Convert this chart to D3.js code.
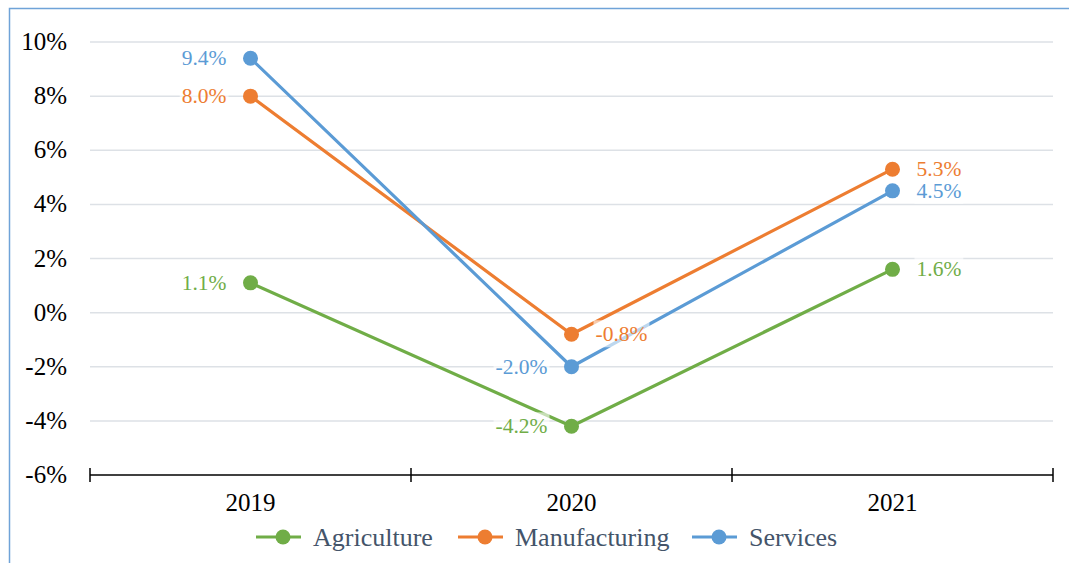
<!DOCTYPE html>
<html>
<head>
<meta charset="utf-8">
<script src="https://cdn.jsdelivr.net/npm/d3@7"></script>
</head>
<body style="margin:0">
<svg id="chart" width="1069" height="563" style="display:block; font-family: 'Times New Roman', 'Liberation Serif', 'DejaVu Serif', serif"></svg>
<script>
// Annual growth by sector, percent
const years = ["2019", "2020", "2021"];
const agriculture = [1.1, -4.2, 1.6];
const manufacturing = [8.0, -0.8, 5.3];
const services = [9.4, -2.0, 4.5];
const yTicks = [-6, -4, -2, 0, 2, 4, 6, 8, 10];

const series = [
  { name: "Agriculture", values: agriculture, color: "#70AD47", side: ["left", "left", "right"] },
  { name: "Manufacturing", values: manufacturing, color: "#ED7D31", side: ["left", "right", "right"] },
  { name: "Services", values: services, color: "#5B9BD5", side: ["left", "left", "right"] }
];

const svg = d3.select("#chart");
const fontStack = "Times New Roman";

// outer frame
svg.append("rect")
  .attr("x", 9.5).attr("y", 8.5)
  .attr("width", 1080).attr("height", 600)
  .attr("fill", "none").attr("stroke", "#6FA3D8").attr("stroke-width", 1.5);

const plot = { left: 90, right: 1053, top: 42, bottom: 475 };

const x = d3.scaleBand().domain(years).range([plot.left, plot.right]);
const y = d3.scaleLinear().domain([-6, 10]).range([plot.bottom, plot.top]);

// gridlines
svg.append("g")
  .selectAll("line")
  .data(yTicks.filter(t => t > -6))
  .join("line")
  .attr("x1", plot.left).attr("x2", plot.right)
  .attr("y1", d => y(d)).attr("y2", d => y(d))
  .attr("stroke", "#DDE1E6").attr("stroke-width", 1.5);

// y axis labels
svg.append("g").selectAll("text")
  .data(yTicks)
  .join("text")
  .attr("x", plot.left - 23).attr("y", d => y(d) + 8)
  .attr("text-anchor", "end")
  .style("font-family", fontStack).style("font-size", "25px").style("fill", "#000")
  .text(d => d + "%");

// x axis with ticks at band boundaries
const gx = svg.append("g").attr("transform", `translate(0,${plot.bottom})`);
gx.append("line")
  .attr("x1", plot.left).attr("x2", plot.right)
  .attr("stroke", "#000").attr("stroke-width", 1.5);
const bounds = years.map(d => x(d)).concat([x(years[years.length - 1]) + x.bandwidth()]);
gx.selectAll("line.tick")
  .data(bounds)
  .join("line")
  .attr("class", "tick")
  .attr("x1", d => d).attr("x2", d => d)
  .attr("y1", -7).attr("y2", 7)
  .attr("stroke", "#000").attr("stroke-width", 1.5);
gx.selectAll("text")
  .data(years)
  .join("text")
  .attr("x", d => x(d) + x.bandwidth() / 2)
  .attr("y", 36)
  .attr("text-anchor", "middle")
  .style("font-family", fontStack).style("font-size", "25px").style("fill", "#000")
  .text(d => d);

const cx = d => x(d) + x.bandwidth() / 2;
const line = d3.line().x(d => cx(d.year)).y(d => y(d.value));

// lines and markers
series.forEach(s => {
  const pts = years.map((yr, i) => ({ year: yr, value: s.values[i] }));
  svg.append("path")
    .datum(pts)
    .attr("d", line)
    .attr("fill", "none").attr("stroke", s.color).attr("stroke-width", 3.2)
    .attr("stroke-linejoin", "round");
  svg.append("g").selectAll("circle")
    .data(pts)
    .join("circle")
    .attr("cx", d => cx(d.year)).attr("cy", d => y(d.value))
    .attr("r", 7.5).attr("fill", s.color);
});

// approximate advance widths (em) for the label glyphs
const em = { "%": 0.833, ".": 0.25, "-": 0.333 };
const textWidth = (str, size) => Array.from(str).reduce((w, c) => w + (em[c] || 0.5), 0) * size;

// data labels on a translucent white backing
const labelSize = 21.5;
const labels = svg.append("g");
series.forEach(s => {
  years.forEach((yr, i) => {
    const v = s.values[i];
    const str = v.toFixed(1) + "%";
    const left = s.side[i] === "left";
    const tx = left ? cx(yr) - 24 : cx(yr) + 24;
    const w = textWidth(str, labelSize);
    const g = labels.append("g");
    g.append("rect")
      .attr("x", (left ? tx - w : tx) - 2).attr("y", y(v) - 14)
      .attr("width", w + 4).attr("height", 27)
      .attr("fill", "#fff").attr("fill-opacity", 0.6);
    g.append("text")
      .attr("x", tx).attr("y", y(v) + 7)
      .attr("text-anchor", left ? "end" : "start")
      .style("font-family", fontStack).style("font-size", labelSize + "px")
      .style("fill", s.color)
      .text(str);
  });
});

// legend
const legendItems = [
  { s: series[0], x: 256, tx: 313 },
  { s: series[1], x: 458, tx: 515 },
  { s: series[2], x: 692, tx: 749 }
];
const lg = svg.append("g");
legendItems.forEach(it => {
  lg.append("line")
    .attr("x1", it.x).attr("x2", it.x + 45)
    .attr("y1", 537).attr("y2", 537)
    .attr("stroke", it.s.color).attr("stroke-width", 3.2);
  lg.append("circle")
    .attr("cx", it.x + 27).attr("cy", 537).attr("r", 7.5).attr("fill", it.s.color);
  lg.append("text")
    .attr("x", it.tx).attr("y", 546)
    .style("font-family", fontStack).style("font-size", "26px").style("fill", "#44546A")
    .text(it.s.name);
});
</script>
</body>
</html>
